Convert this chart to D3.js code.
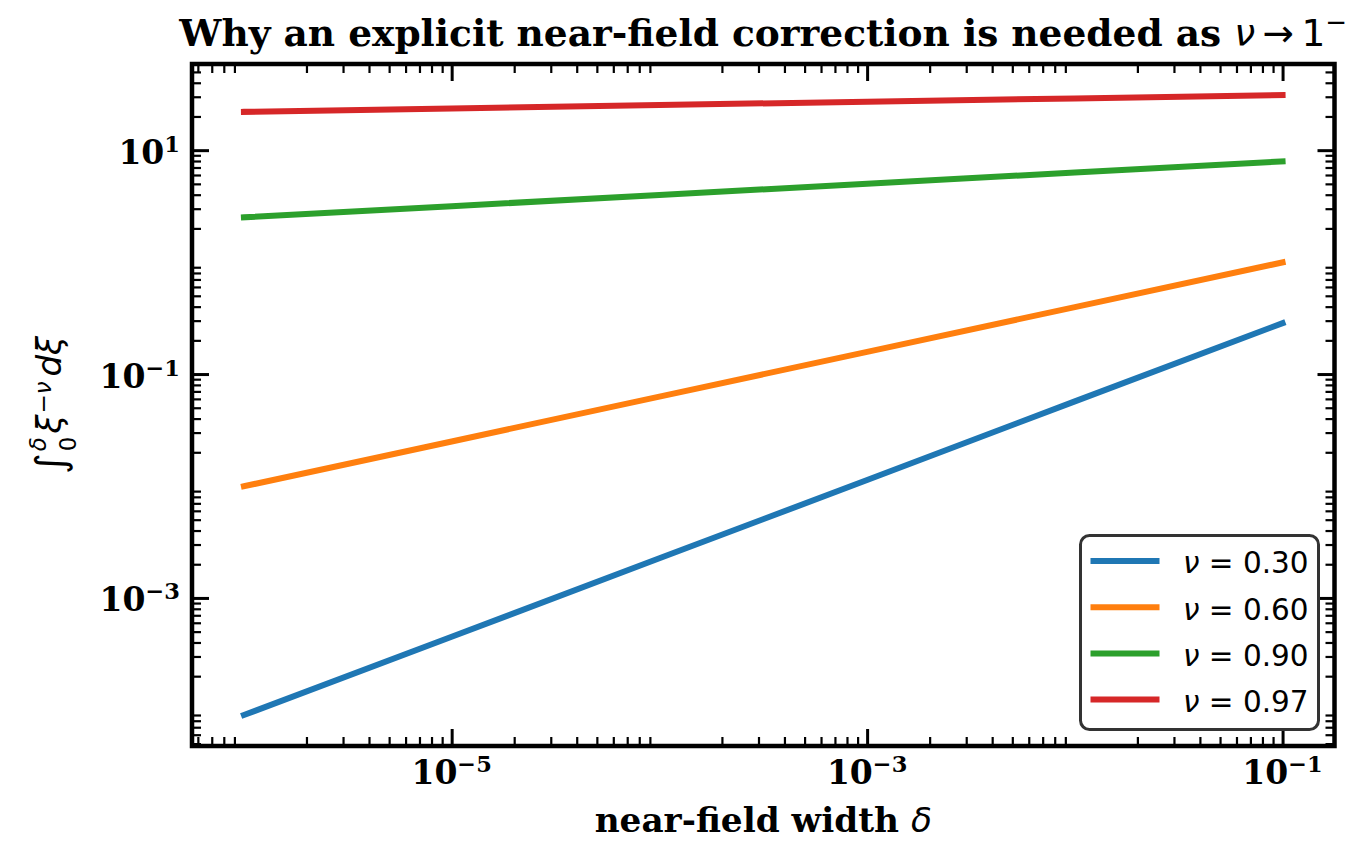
<!DOCTYPE html>
<html>
<head>
<meta charset="utf-8">
<script src="https://cdn.jsdelivr.net/npm/d3@7"></script>
<style>
  body { margin: 0; background: #fff; }
  svg { display: block; }
</style>
</head>
<body>
<svg id="chart" width="1360" height="848"></svg>
<script>
// data (values at each decade of delta)
const deltas = [1e-6, 1e-5, 1e-4, 1e-3, 1e-2, 1e-1];
const nu030 = [9.0e-5, 4.5e-4, 2.26e-3, 1.13e-2, 5.7e-2, 0.285];
const nu060 = [0.00995, 0.025, 0.0628, 0.158, 0.396, 0.995];
const nu090 = [2.51, 3.16, 3.98, 5.01, 6.31, 7.94];
const nu097 = [22.0, 23.6, 25.3, 27.1, 29.0, 31.1];
const nuLabels = ["0.30", "0.60", "0.90", "0.97"];
const colors = ["#1f77b4", "#ff7f0e", "#2ca02c", "#d62728"];

// ticks
const xMajor = [1e-5, 1e-3, 1e-1];
const xMajorExp = ["\u22125", "\u22123", "\u22121"];
const yMajor = [1e1, 1e-1, 1e-3];
const yMajorExp = ["1", "\u22121", "\u22123"];

const W = 1360, H = 848;
const M = {top: 64, right: 25.5, bottom: 102, left: 192};
const svg = d3.select("#chart");
const serif = "'DejaVu Serif', serif";
const sans = "'DejaVu Sans', sans-serif";

// log padding like matplotlib margins (5%)
function logPad(ext, f) {
  const a = Math.log10(ext[0]), b = Math.log10(ext[1]), p = (b - a) * f;
  return [10 ** (a - p), 10 ** (b + p)];
}

const series = [nu030, nu060, nu090, nu097];
const x = d3.scaleLog().domain(logPad(d3.extent(deltas), 0.05)).range([M.left, W - M.right]);
const y = d3.scaleLog().domain(logPad(d3.extent(series.flat()), 0.05)).range([H - M.bottom, M.top]);

const isPow10 = v => Math.abs(Math.log10(v) - Math.round(Math.log10(v))) < 1e-9;
const xMinor = x.ticks(60).filter(v => !isPow10(v));
const yMinor = y.ticks(60).filter(v => !isPow10(v));

// lines
const line = d3.line().x(d => x(d[0])).y(d => y(d[1]));
svg.append("g").selectAll("path")
  .data(series)
  .join("path")
  .attr("d", s => line(deltas.map((d, i) => [d, s[i]])))
  .attr("fill", "none")
  .attr("stroke", (s, i) => colors[i])
  .attr("stroke-width", 6)
  .attr("stroke-linecap", "square");

// ticks on four sides, pointing in
function ticks(axis, tr, vals, len, w) {
  svg.append("g").attr("transform", tr)
    .call(axis.tickValues(vals).tickSize(-len).tickFormat(""))
    .call(g => g.select(".domain").remove())
    .call(g => g.selectAll("line").attr("stroke", "#000").attr("stroke-width", w));
}
const pB = H - M.bottom, pT = M.top, pL = M.left, pR = W - M.right;
ticks(d3.axisBottom(x), `translate(0,${pB})`, xMinor, 9, 2.2);
ticks(d3.axisBottom(x), `translate(0,${pB})`, xMajor, 17, 3);
ticks(d3.axisTop(x), `translate(0,${pT})`, xMinor, 9, 2.2);
ticks(d3.axisTop(x), `translate(0,${pT})`, xMajor, 17, 3);
ticks(d3.axisLeft(y), `translate(${pL},0)`, yMinor, 9, 2.2);
ticks(d3.axisLeft(y), `translate(${pL},0)`, yMajor, 17, 3);
ticks(d3.axisRight(y), `translate(${pR},0)`, yMinor, 9, 2.2);
ticks(d3.axisRight(y), `translate(${pR},0)`, yMajor, 17, 3);

// spines
svg.append("rect")
  .attr("x", pL).attr("y", pT)
  .attr("width", pR - pL).attr("height", pB - pT)
  .attr("fill", "none").attr("stroke", "#000").attr("stroke-width", 4.5);

// tick labels
function powLabel(sel, exp) {
  sel.append("tspan").text("10");
  sel.append("tspan").attr("dy", -12).attr("font-size", 22.5).text(exp);
}
svg.append("g").selectAll("text")
  .data(xMajor)
  .join("text")
  .attr("x", d => x(d)).attr("y", pB + 38)
  .attr("text-anchor", "middle")
  .attr("font-family", serif).attr("font-weight", "bold").attr("font-size", 33)
  .each(function (d, i) { powLabel(d3.select(this), xMajorExp[i]); });

svg.append("g").selectAll("text")
  .data(yMajor)
  .join("text")
  .attr("x", pL - 12).attr("y", d => y(d) + 13.5)
  .attr("text-anchor", "end")
  .attr("font-family", serif).attr("font-weight", "bold").attr("font-size", 33)
  .each(function (d, i) { powLabel(d3.select(this), yMajorExp[i]); });

// title
const cx = (pL + pR) / 2;
const title = svg.append("text")
  .attr("x", cx).attr("y", 45.5)
  .attr("text-anchor", "middle")
  .attr("font-family", serif).attr("font-weight", "bold").attr("font-size", 37.5);
title.append("tspan").text("Why an explicit near-field correction is needed as ");
title.append("tspan").attr("font-family", sans).attr("font-weight", "normal").attr("font-style", "italic").text("\u03bd");
title.append("tspan").attr("font-family", sans).attr("font-weight", "normal").text("\u2009\u2192\u20091");
title.append("tspan").attr("font-family", sans).attr("font-weight", "normal").attr("font-size", 26).attr("dy", -15).text("\u2212");

// x label
const xl = svg.append("text")
  .attr("x", cx).attr("y", 831.5)
  .attr("text-anchor", "middle")
  .attr("font-family", serif).attr("font-weight", "bold").attr("font-size", 34.3);
xl.append("tspan").text("near-field width ");
xl.append("tspan").attr("font-family", sans).attr("font-weight", "normal").attr("font-style", "italic").text("\u03b4");

// y label  (∫_0^δ ξ^{−ν} dξ)
const yl = svg.append("text")
  .attr("transform", `translate(61,${(pT + pB) / 2}) rotate(-90)`)
  .attr("text-anchor", "middle")
  .attr("font-family", sans).attr("font-size", 34);
yl.append("tspan").attr("font-size", 40).attr("dy", 3).text("\u222b");
const supD = yl.append("tspan").attr("font-style", "italic").attr("font-size", 23).attr("dx", 2).attr("dy", -18).text("\u03b4");
const sub0 = yl.append("tspan").attr("font-size", 23).attr("dy", 30).text("0");
sub0.attr("dx", -supD.node().getComputedTextLength());
yl.append("tspan").attr("font-style", "italic").attr("dx", 3).attr("dy", -15).text("\u03be");
yl.append("tspan").attr("font-size", 23).attr("dx", 1).attr("dy", -10).text("\u2212");
yl.append("tspan").attr("font-size", 23).attr("font-style", "italic").text("\u03bd");
yl.append("tspan").attr("font-style", "italic").attr("dx", 5).attr("dy", 10).text("d\u03be");

// legend
const lg = svg.append("g");
lg.append("rect")
  .attr("x", 1080.5).attr("y", 535.5).attr("width", 238).attr("height", 194)
  .attr("rx", 9)
  .attr("fill", "#fff").attr("stroke", "#333").attr("stroke-width", 3);
const rows = lg.selectAll("g.row")
  .data(nuLabels)
  .join("g")
  .attr("class", "row")
  .attr("transform", (d, i) => `translate(0,${561 + i * 46.2})`);
rows.append("line")
  .attr("x1", 1090.5).attr("x2", 1159.5)
  .attr("stroke", (d, i) => colors[i]).attr("stroke-width", 6);
rows.append("text")
  .attr("x", 1183).attr("y", 12.3)
  .attr("font-family", sans).attr("font-size", 29.5)
  .each(function (d) {
    const t = d3.select(this);
    t.append("tspan").attr("font-style", "italic").text("\u03bd");
    t.append("tspan").text(" = " + d);
  });
</script>
</body>
</html>
